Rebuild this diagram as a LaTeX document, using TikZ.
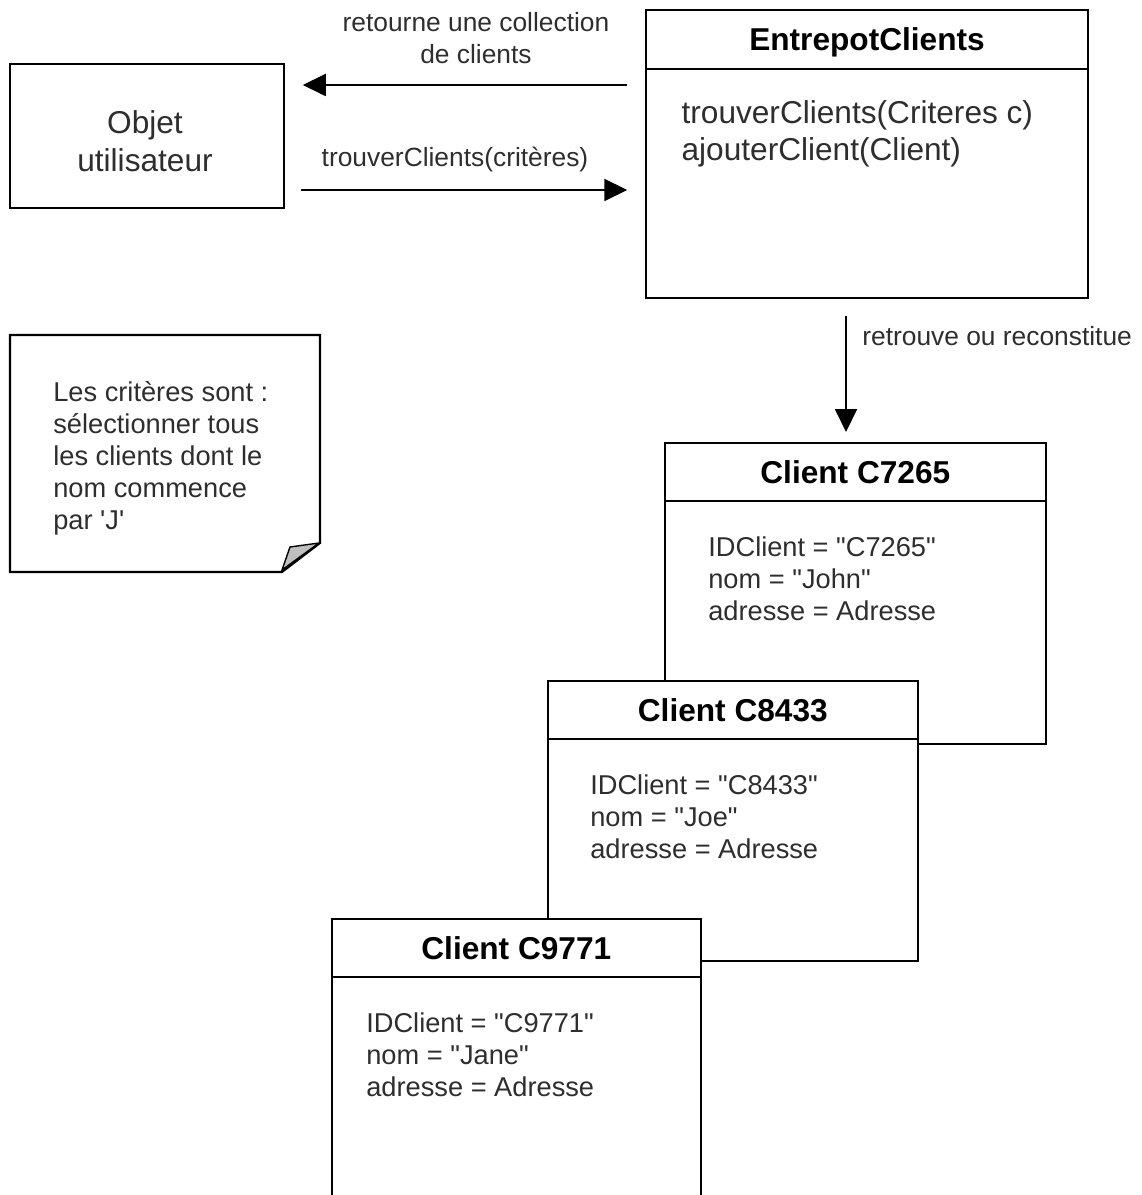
\documentclass[tikz,border=0pt]{standalone}
\usepackage{fontspec}
\setmainfont{Liberation Sans}
\usetikzlibrary{arrows.meta}
\colorlet{ctexte}{black!82}
\tikzset{
  boite/.style={draw=black, line width=0.9pt, fill=white, inner sep=0pt},
  titre/.style={font=\fontsize{18}{21}\selectfont\bfseries, inner sep=0pt},
  grand/.style={font=\fontsize{18}{21.5}\selectfont, align=center, text=ctexte},
  methode/.style={font=\fontsize{18}{21}\selectfont, align=left, anchor=west, inner sep=0pt, text=ctexte},
  attr/.style={font=\fontsize{15.5}{18.2}\selectfont, align=left, anchor=west, inner sep=0pt, text=ctexte},
  msg/.style={font=\fontsize{15}{18.2}\selectfont, align=center, inner sep=0pt, text=ctexte},
  flow/.style={-{Triangle[length=0.46cm,width=0.44cm]}, line width=1.1pt},
}
\newcommand{\qd}{\textquotedbl}
\begin{document}
\begin{tikzpicture}[x=0.02cm, y=-0.02cm]
\useasboundingbox (0,0) rectangle (1141,1195);
\clip (0,0) rectangle (1141,1195);
% objet utilisateur et entrepot
\node[boite, minimum width=5.48cm, minimum height=2.88cm] (objet) at (147,136) {};
\node[grand] (tobjet) at (145,141) {Objet\\utilisateur};
\node[boite, minimum width=8.84cm, minimum height=5.76cm] (entrepot) at (867,154) {};
\node[titre] (tentrepot) at ([yshift=-0.66cm]entrepot.north) {EntrepotClients};
\draw[line width=0.9pt] ([yshift=-1.2cm]entrepot.north west) -- ([yshift=-1.2cm]entrepot.north east);
\node[methode] (methodes) at ([xshift=0.72cm, yshift=-2.5cm]entrepot.north west)
  {trouverClients(Criteres c)\\ajouterClient(Client)};
% messages
\draw[flow, shorten <=0.36cm, shorten >=0.36cm] (entrepot.west |- 0,85) -- (objet.east |- 0,85);
\node[msg] (lretour) at (476,38) {retourne une collection\\de clients};
\draw[flow, shorten <=0.32cm, shorten >=0.36cm] (objet.east |- 0,190) -- (entrepot.west |- 0,190);
\node[msg] (lappel) at (455,160) {trouverClients(critères)};
% note
\draw[line width=1.2pt, fill=white] (10,335) -- (320,335) -- (320,543) -- (282,572) -- (10,572) -- cycle;
\draw[line width=0.8pt, fill=black!25] (282,570) -- (290,547) -- (319,543) -- cycle;
\node[attr] (note) at (53,458) {Les critères sont :\\sélectionner tous\\les clients dont le\\nom commence\\par \textquotesingle J\textquotesingle};
% clients
\foreach \id/\nom/\x/\y/\w/\h/\dx in {7265/John/664/442/381/301/0.88cm, 8433/Joe/547/680/370/280/0.86cm, 9771/Jane/331/918/369/300/0.7cm} {
  \node[boite, anchor=north west, minimum width=\w*0.02cm, minimum height=\h*0.02cm] (c\id) at (\x,\y) {};
  \node[titre] (t\id) at ([yshift=-0.6cm]c\id.north) {Client C\id};
  \draw[line width=0.9pt] ([yshift=-1.18cm]c\id.north west) -- ([yshift=-1.18cm]c\id.north east);
  \node[attr] (a\id) at ([xshift=\dx, yshift=-2.74cm]c\id.north west)
    {IDClient = \qd C\id\qd\\nom = \qd\nom\qd\\adresse = Adresse};
}
\draw[flow, shorten <=0.34cm, shorten >=0.2cm] (846,0 |- entrepot.south) -- (846,0 |- c7265.north);
\node[msg, anchor=west] (lretrouve) at (862,336) {retrouve ou reconstitue};
\end{tikzpicture}
\end{document}
